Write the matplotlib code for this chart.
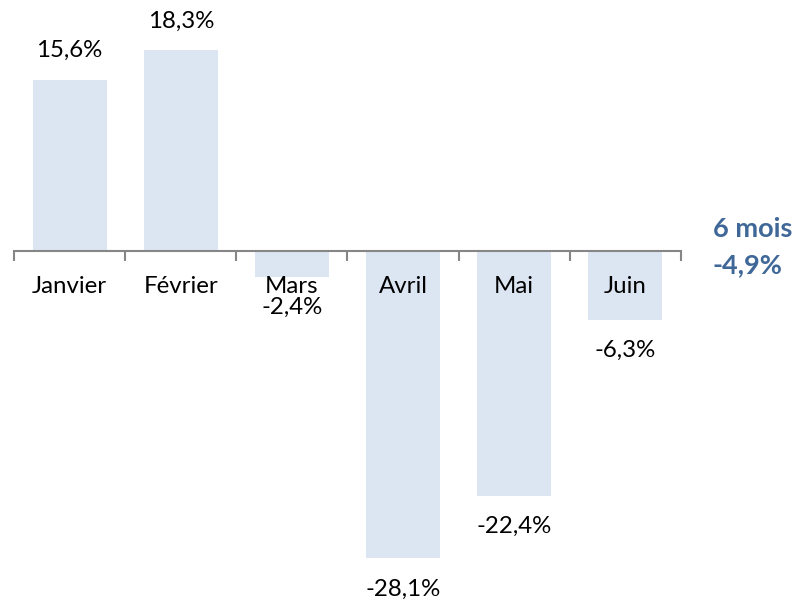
import matplotlib.pyplot as plt
import numpy as np

mois = ["Janvier", "Février", "Mars", "Avril", "Mai", "Juin"]
variation = [15.6, 18.3, -2.4, -28.1, -22.4, -6.3]
total_label = "6 mois"
total_value = -4.9

plt.rcParams['font.family'] = ['Lato', 'DejaVu Sans']


def fmt(v):
    return f"{v:.1f}%".replace(".", ",")


fig = plt.figure(figsize=(7.96, 6.0), dpi=100)
ax = fig.add_axes([14 / 796, 0, 667 / 796, 1])

x = np.arange(len(mois))
ax.bar(x, variation, width=0.667, color="#DCE6F2", zorder=1)

ax.set_xlim(-0.5, len(mois) - 0.5)
ax.set_ylim(-31.9, 22.9)

for s in ["top", "left", "right"]:
    ax.spines[s].set_visible(False)
ax.spines["bottom"].set_position(("data", 0))
ax.spines["bottom"].set_color("#868686")
ax.spines["bottom"].set_linewidth(1.5)
ax.spines["bottom"].set_zorder(3)
ax.set_yticks([])

# limites des categories
ax.set_xticks(np.arange(-0.5, len(mois)), minor=True)
ax.tick_params(axis="x", which="minor", length=7, width=1.5, color="#868686", direction="out")
ax.set_xticks(x, labels=mois)
ax.tick_params(axis="x", which="major", length=0, pad=18, labelsize=17.3)

for i, v in enumerate(variation):
    off = 21 if v > 0 else -22
    ax.annotate(fmt(v), (i, v), xytext=(0, off), textcoords="offset points",
                ha="center", va="center", fontsize=17.3, color="black")

fig.text(713 / 796, 1 - 229 / 600, total_label, ha="left", va="center",
         fontsize=19.5, fontweight="bold", color="#3F6797")
fig.text(713 / 796, 1 - 265 / 600, fmt(total_value), ha="left", va="center",
         fontsize=19.5, fontweight="bold", color="#3F6797")

fig.savefig("out.png", dpi=100)
